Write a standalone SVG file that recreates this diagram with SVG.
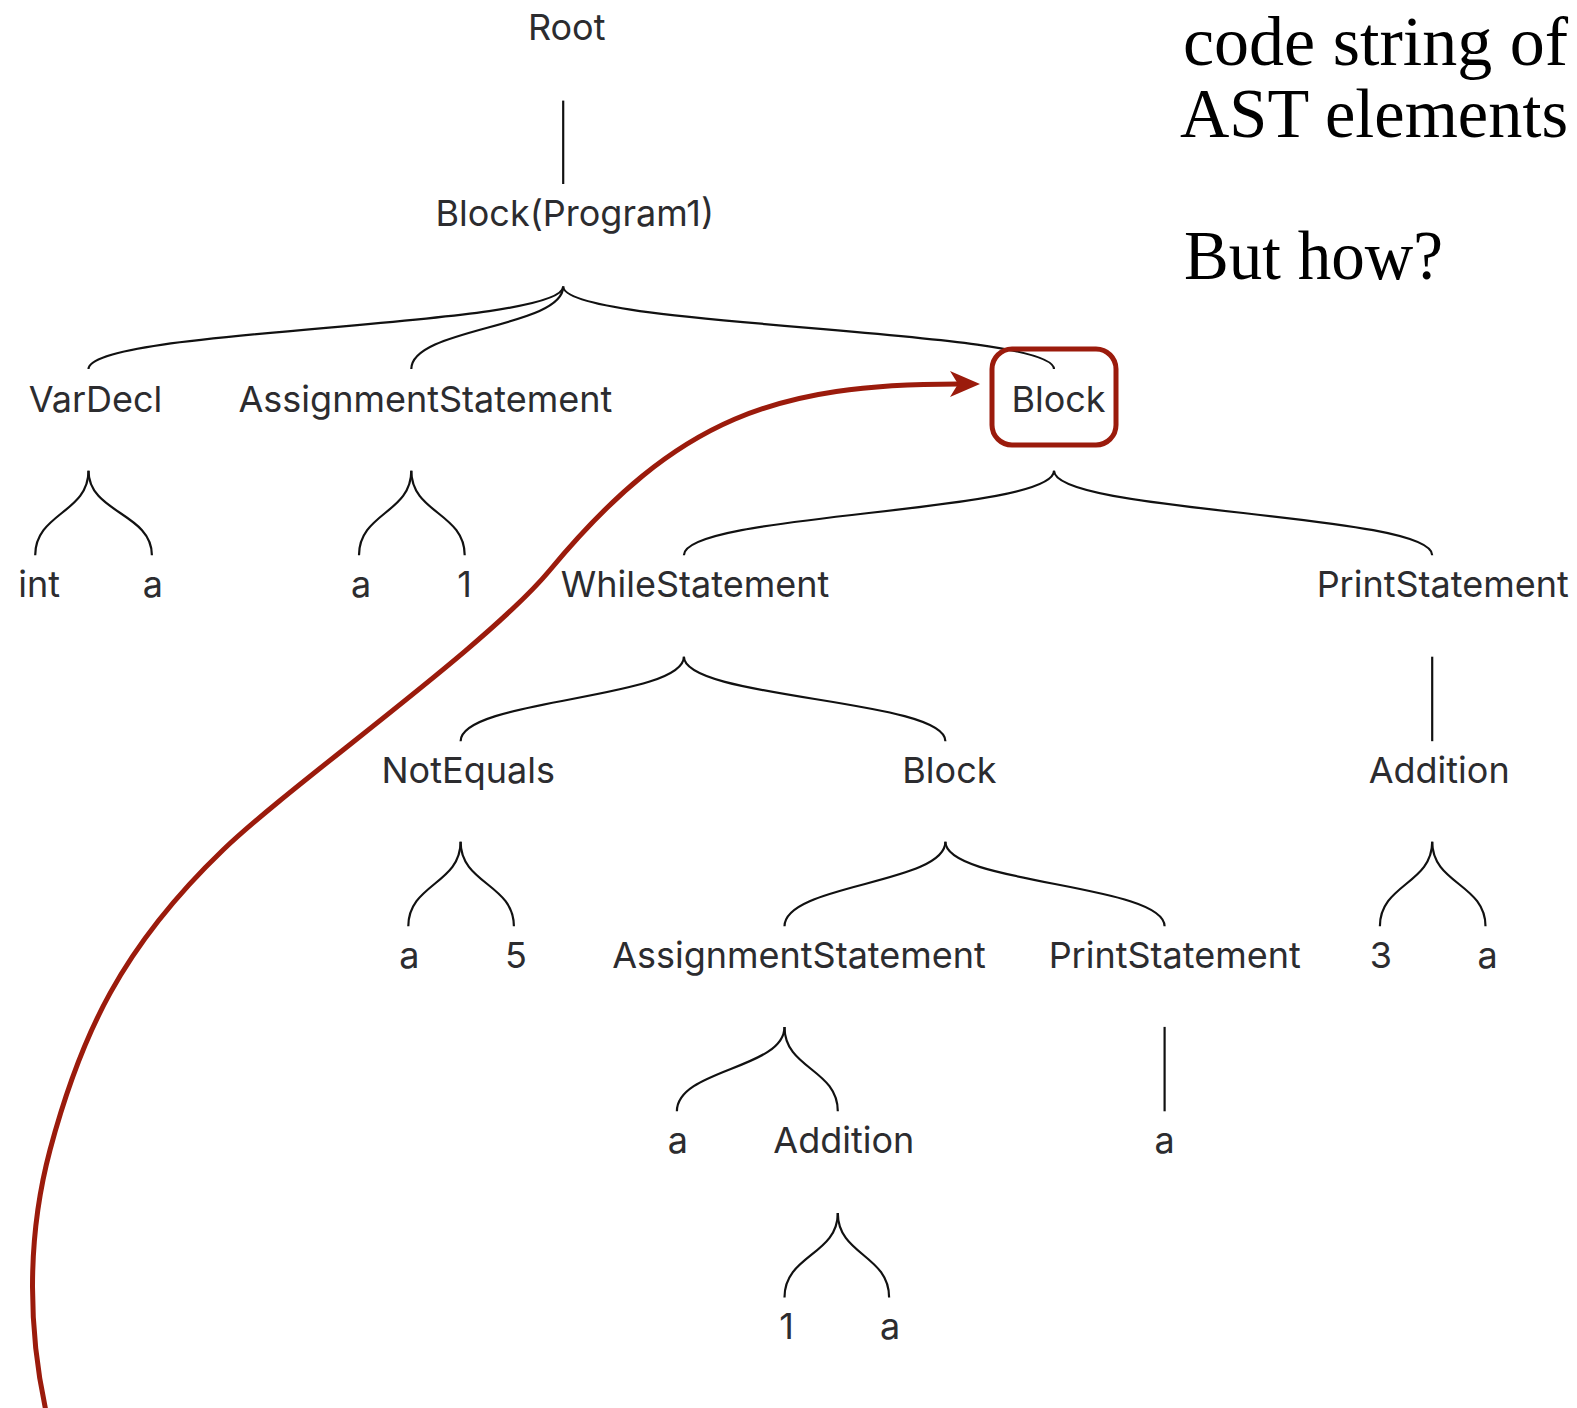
<svg xmlns="http://www.w3.org/2000/svg" width="1577" height="1408" viewBox="0 0 1577 1408">
<style>
  .lbl { font-family: Inter, "Liberation Sans", sans-serif; font-size: 36px; fill: #2c2c2f; text-anchor: middle; }
  .edge { fill: none; stroke: #111; stroke-width: 2.2; }
  .serif { font-family: "Liberation Serif", "DejaVu Serif", serif; font-size: 70px; fill: #000; }
  .hl { fill: none; stroke: #9b1b0c; stroke-width: 5; }
</style>
<defs>
  <marker id="arrow" markerUnits="userSpaceOnUse" markerWidth="30" markerHeight="26" refX="8" refY="13" orient="auto" viewBox="0 0 30 26">
    <path d="M0,0 L30,13 L0,26 L8,13 Z" fill="#9b1b0c"/>
  </marker>
</defs>
<rect width="1577" height="1408" fill="#fff"/>

<g id="connectors">
  <path class="edge" d="M563.2,100.6 L563.2,184"/>
  <path class="edge" d="M88.5,369.1 C88.5,327.8 563.2,327.8 563.2,286.6"/>
  <path class="edge" d="M411.3,369.1 C411.3,327.8 563.2,327.8 563.2,286.6"/>
  <path class="edge" d="M1054,369.1 C1054,327.8 563.2,327.8 563.2,286.6"/>
  <path class="edge" d="M35.2,555.2 C35.2,513 88.5,513 88.5,470.7"/>
  <path class="edge" d="M151.9,555.2 C151.9,513 88.5,513 88.5,470.7"/>
  <path class="edge" d="M359,555.2 C359,513 411.3,513 411.3,470.7"/>
  <path class="edge" d="M464.7,555.2 C464.7,513 411.3,513 411.3,470.7"/>
  <path class="edge" d="M683.9,555.2 C683.9,513 1054,513 1054,470.7"/>
  <path class="edge" d="M1432.2,555.2 C1432.2,513 1054,513 1054,470.7"/>
  <path class="edge" d="M460.6,741.2 C460.6,699 683.9,699 683.9,656.7"/>
  <path class="edge" d="M945.4,741.2 C945.4,699 683.9,699 683.9,656.7"/>
  <path class="edge" d="M1432.2,656.7 L1432.2,741.2"/>
  <path class="edge" d="M408.3,926.3 C408.3,884 460.6,884 460.6,841.8"/>
  <path class="edge" d="M513.9,926.3 C513.9,884 460.6,884 460.6,841.8"/>
  <path class="edge" d="M784.5,926.3 C784.5,884 945.4,884 945.4,841.8"/>
  <path class="edge" d="M1164.6,926.3 C1164.6,884 945.4,884 945.4,841.8"/>
  <path class="edge" d="M1379.9,926.3 C1379.9,884 1432.2,884 1432.2,841.8"/>
  <path class="edge" d="M1485.5,926.3 C1485.5,884 1432.2,884 1432.2,841.8"/>
  <path class="edge" d="M676.9,1111.3 C676.9,1069 784.5,1069 784.5,1026.9"/>
  <path class="edge" d="M837.8,1111.3 C837.8,1069 784.5,1069 784.5,1026.9"/>
  <path class="edge" d="M1164.6,1026.9 L1164.6,1111.3"/>
  <path class="edge" d="M784.5,1297.4 C784.5,1255 837.8,1255 837.8,1212.9"/>
  <path class="edge" d="M889.1,1297.4 C889.1,1255 837.8,1255 837.8,1212.9"/>
</g>

<g id="n-root"><text class="lbl" x="566.7" y="40.2">Root</text></g>
<g id="n-program"><text class="lbl" x="574.8" y="226.3">Block(Program1)</text></g>
<g id="n-vardecl"><text class="lbl" x="95.5" y="412.4">VarDecl</text></g>
<g id="n-assign1"><text class="lbl" x="425.4" y="412.4">AssignmentStatement</text></g>
<g id="n-block1">
  <rect class="hl" x="992" y="349" width="124" height="96" rx="20"/>
  <text class="lbl" x="1058.5" y="412.4">Block</text>
</g>
<g id="n-int"><text class="lbl" x="39.2" y="597.4">int</text></g>
<g id="n-a1"><text class="lbl" x="152.9" y="597.4">a</text></g>
<g id="n-a2"><text class="lbl" x="361" y="597.4">a</text></g>
<g id="n-one1"><text class="lbl" x="464.7" y="597.4">1</text></g>
<g id="n-while"><text class="lbl" x="695" y="597.4">WhileStatement</text></g>
<g id="n-print1"><text class="lbl" x="1442.7" y="597.4">PrintStatement</text></g>
<g id="n-noteq"><text class="lbl" x="468.2" y="782.5">NotEquals</text></g>
<g id="n-block2"><text class="lbl" x="949.4" y="782.5">Block</text></g>
<g id="n-add1"><text class="lbl" x="1439.2" y="782.5">Addition</text></g>
<g id="n-a3"><text class="lbl" x="409.3" y="967.5">a</text></g>
<g id="n-five"><text class="lbl" x="516" y="967.5">5</text></g>
<g id="n-assign2"><text class="lbl" x="799" y="967.5">AssignmentStatement</text></g>
<g id="n-print2"><text class="lbl" x="1174.7" y="967.5">PrintStatement</text></g>
<g id="n-three"><text class="lbl" x="1380.9" y="967.5">3</text></g>
<g id="n-a4"><text class="lbl" x="1487.5" y="967.5">a</text></g>
<g id="n-a5"><text class="lbl" x="677.9" y="1152.6">a</text></g>
<g id="n-add2"><text class="lbl" x="843.8" y="1152.6">Addition</text></g>
<g id="n-a6"><text class="lbl" x="1164.6" y="1152.6">a</text></g>
<g id="n-one2"><text class="lbl" x="786.5" y="1338.6">1</text></g>
<g id="n-a7"><text class="lbl" x="890" y="1338.6">a</text></g>

<g id="highlight-arrow">
  <path class="hl" marker-end="url(#arrow)" d="M48,1420 C28,1335 26,1240 50,1150 C81,1034 122,947 223,850 C295,781 486,647 550,570 C678,416 778,384 958,384"/>
</g>

<g id="side-text">
  <text class="serif" x="1183" y="65" textLength="385" lengthAdjust="spacingAndGlyphs">code string of</text>
  <text class="serif" x="1180" y="137" textLength="388" lengthAdjust="spacingAndGlyphs">AST elements</text>
  <text class="serif" x="1184" y="279" textLength="259" lengthAdjust="spacingAndGlyphs">But how?</text>
</g>
</svg>
